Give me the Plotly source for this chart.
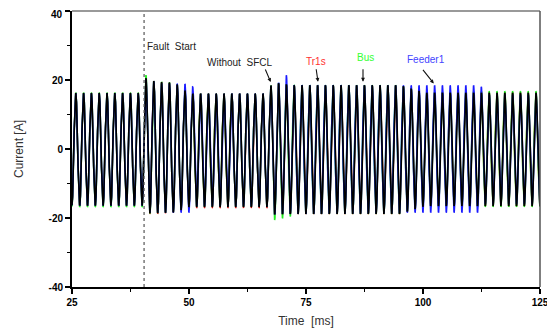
import numpy as np
import plotly.graph_objects as go

# ---- data ----
T_START, T_END = 25.0, 125.0          # ms
PERIOD_MS = 1.6667                    # one cycle of the current waveform
FIRST_PEAK_MS = 25.8                  # time of the first positive peak
FAULT_MS = 40.4                       # fault start

# envelope keyframes (time ms, positive peak A, negative peak magnitude A)
black_t   = [25, 40.4, 40.7, 43.0, 47.0, 50.0, 67.2, 67.6, 72.0, 95.0, 100.5, 125]
black_pos = [16.2, 16.2, 20.6, 19.4, 19.2, 16.0, 16.0, 19.4, 18.5, 18.5, 16.3, 16.3]
black_neg = [16.4, 16.4, 18.6, 18.6, 18.3, 16.8, 16.8, 19.0, 18.8, 18.8, 16.5, 16.5]

red_t   = [25, 40.4, 40.7, 43.0, 47.0, 50.0, 67.2, 67.6, 72.0, 95.0, 100.5, 125]
red_pos = [16.0, 16.0, 20.4, 19.3, 19.0, 16.0, 16.0, 19.2, 18.4, 18.4, 16.4, 16.4]
red_neg = [16.5, 16.5, 18.8, 18.8, 18.4, 17.1, 17.1, 19.0, 18.9, 18.9, 16.6, 16.6]

green_t   = [25, 40.4, 40.7, 42.0, 47.0, 50.0, 67.2, 67.6, 71.5, 73.0, 95.0, 100.5, 112.4, 125]
green_pos = [16.3, 16.3, 21.6, 19.6, 19.2, 16.0, 16.0, 19.4, 18.6, 18.5, 18.5, 16.4, 16.7, 16.7]
green_neg = [16.8, 16.8, 18.8, 18.6, 18.3, 16.7, 16.7, 20.8, 19.6, 18.8, 18.8, 16.6, 16.7, 16.7]

blue_t   = [25, 40.4, 40.7, 44.0, 46.0, 50.5, 51.5, 67.2, 67.6, 70.2, 70.8, 71.4, 95.0, 95.7, 112.4, 112.8, 125]
blue_pos = [16.1, 16.1, 20.2, 19.0, 19.0, 18.8, 16.0, 16.0, 19.2, 19.2, 21.4, 18.5, 18.4, 18.4, 18.4, 15.8, 15.8]
blue_neg = [16.4, 16.4, 18.4, 18.4, 18.4, 18.4, 16.6, 16.6, 19.0, 18.8, 18.8, 18.8, 18.6, 18.4, 18.4, 16.0, 16.0]

x_ticks = [25, 50, 75, 100, 125]
y_ticks = [-40, -20, 0, 20, 40]
y_ticktext = ["-40", "-20", "0", "20", ""]   # "40" is drawn as an annotation below
y_top_label = "40"


def wave(kt, kpos, kneg):
    t = np.linspace(T_START, T_END, 6001)
    c = np.cos(2 * np.pi * (t - FIRST_PEAK_MS) / PERIOD_MS)
    pos = np.interp(t, kt, kpos)
    neg = np.interp(t, kt, kneg)
    return t, np.where(c >= 0, c * pos, c * neg)


fig = go.Figure()
series = [
    ("Tr1s", red_t, red_pos, red_neg, "#ff2020", 1.4),
    ("Bus", green_t, green_pos, green_neg, "#22ee22", 1.6),
    ("Feeder1", blue_t, blue_pos, blue_neg, "#1a1aff", 1.6),
    ("Without SFCL", black_t, black_pos, black_neg, "#000000", 1.6),
]
for name, kt, kp, kn, col, w in series:
    t, y = wave(kt, kp, kn)
    fig.add_trace(go.Scatter(x=t, y=y, mode="lines", name=name,
                             line=dict(color=col, width=w), showlegend=False))

# fault start dotted line
fig.add_shape(type="line", x0=FAULT_MS, x1=FAULT_MS, y0=0, y1=1, yref="paper",
              line=dict(color="#555555", width=1.2, dash="dot"))
# frame top / right
fig.add_shape(type="line", x0=0, x1=1, y0=1, y1=1, xref="paper", yref="paper",
              line=dict(color="#777777", width=1.5))
fig.add_shape(type="line", x0=1, x1=1, y0=0, y1=1, xref="paper", yref="paper",
              line=dict(color="#555555", width=1.5))

# pixel -> data helpers (window pixels of the reference picture)
def px_t(px):
    return 25 + (px - 72.3) / 4.68

def px_v(py):
    return (149 - py) / 3.45

ann_font = dict(family="Liberation Sans, Arial", size=10)
fig.add_annotation(x=FAULT_MS, y=px_v(46), text="Fault  Start", showarrow=False,
                   xanchor="left", xshift=1, font=dict(ann_font, color="#222222"))
arrows = [
    ("Without  SFCL", 67.46, 19.4, -6, -14, 62.0, "#222222", 240),
    ("Tr1s", 77.56, 19.5, -2, -14, 61.0, "#ff3030", 316.5),
    ("Bus", 87.18, 19.5, 0, -14, 57.5, "#33ff33", 366),
    ("Feeder1", 102.3, 19.0, -12, -15, 59.5, "#4444ff", 426.5),
]
for text, hx, hy, ax, ay, ty_px, col, tx_px in arrows:
    fig.add_annotation(x=hx, y=hy, ax=ax, ay=ay, text="", showarrow=True,
                       arrowhead=2, arrowsize=0.7, arrowwidth=1.1, arrowcolor="#111111")
    fig.add_annotation(x=px_t(tx_px), y=px_v(ty_px), text=text, showarrow=False,
                       font=dict(ann_font, color=col))

tick_font = dict(family="Liberation Sans, Arial", size=10, color="#000000", weight="bold")
title_font = dict(family="Liberation Sans, Arial", size=12, color="#333333")

# top y tick label, nudged slightly down so it is not cut by the page edge
fig.add_annotation(xref="paper", x=0, y=y_ticks[-1], text=y_top_label, showarrow=False,
                   xanchor="right", yanchor="middle", xshift=-7, yshift=-3,
                   font=tick_font)

fig.update_xaxes(range=[T_START, T_END], tickvals=x_ticks, ticks="outside", ticklen=5,
                 tickwidth=1.5, tickcolor="#000", showline=True, linecolor="#000",
                 linewidth=2, showgrid=False, zeroline=False, tickfont=tick_font,
                 automargin=False, ticklabeloverflow="allow",
                 minor=dict(tickvals=[37.5, 62.5, 87.5, 112.5], ticks="outside",
                            ticklen=3, tickwidth=1.2, tickcolor="#000"),
                 title=dict(text="Time  [ms]", font=title_font, standoff=10))
fig.update_yaxes(range=[-40, 40], tickvals=y_ticks, ticktext=y_ticktext, ticks="outside",
                 ticklen=5, tickwidth=1.5, tickcolor="#000", showline=True, linecolor="#000",
                 linewidth=2, showgrid=False, zeroline=False, tickfont=tick_font,
                 automargin=False, ticklabeloverflow="allow",
                 minor=dict(tickvals=[-30, -10, 10, 30], ticks="outside",
                            ticklen=3, tickwidth=1.2, tickcolor="#000"),
                 title=dict(text="Current [A]", font=title_font, standoff=22))

# the page body adds an 8 px offset, so margins are shifted by 8 px
fig.update_layout(width=555, height=329, margin=dict(l=64, r=23, t=3, b=50),
                  plot_bgcolor="white", paper_bgcolor="white")

fig.write_html("out.html")
